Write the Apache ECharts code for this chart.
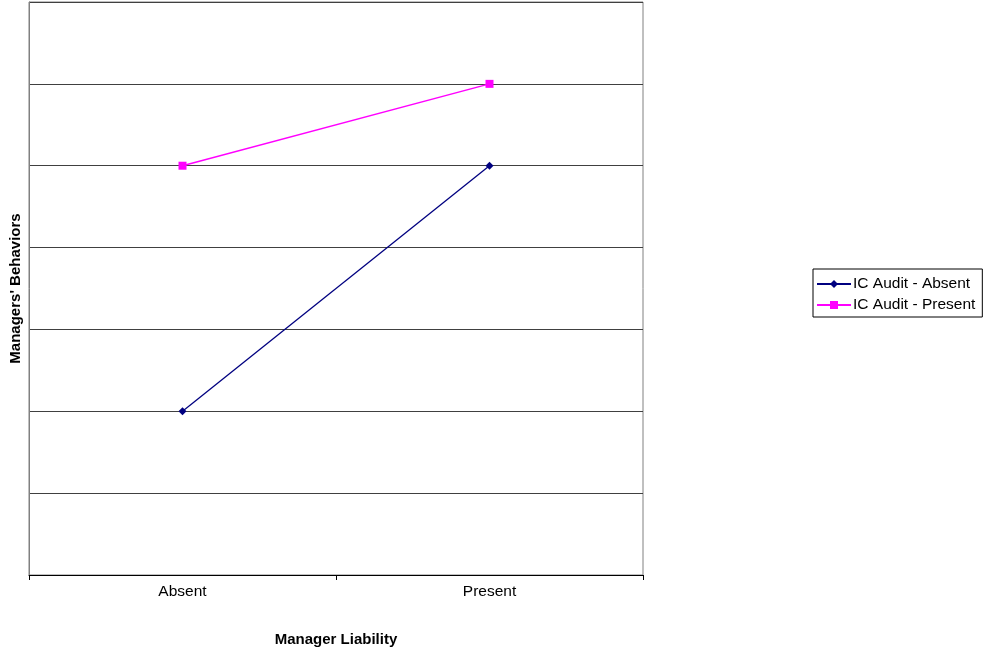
<!DOCTYPE html>
<html>
<head>
<meta charset="utf-8">
<script src="https://cdn.jsdelivr.net/npm/echarts@6/dist/echarts.min.js"></script>
<style>
html,body{margin:0;padding:0;background:#fff;}
#chart{width:985px;height:649px;}
</style>
</head>
<body>
<div id="chart"></div>
<script>
const categories = ['Absent', 'Present'];
const icAuditAbsent = [2, 5];
const icAuditPresent = [5, 6];
const seriesNames = ['IC Audit - Absent', 'IC Audit - Present'];

const chart = echarts.init(document.getElementById('chart'));
const font = 'Liberation Sans, Arial, sans-serif';
chart.setOption({
  animation: false,
  backgroundColor: '#fff',
  grid: {left: 29, top: 2, right: 342, bottom: 74, show: true, borderColor: '#808080', borderWidth: 1,
         containLabel: false, outerBoundsMode: 'none'},
  legend: {
    orient: 'vertical', left: 813, top: 269,
    data: seriesNames,
    itemWidth: 34, itemHeight: 10, itemGap: 5,
    padding: [7, 7, 4, 3],
    borderColor: '#000', borderWidth: 1,
    textStyle: {fontFamily: font, fontSize: 15.5, color: '#000', padding: [0,0,0,-3]}
  },
  xAxis: {
    type: 'category', data: categories, boundaryGap: true,
    name: 'Manager Liability', nameLocation: 'middle', nameGap: 57,
    nameTextStyle: {fontFamily: font, fontSize: 15, fontWeight: 'bold', color: '#000'},
    axisLine: {lineStyle: {color: '#000', width: 1}},
    axisTick: {show: true, length: 5, lineStyle: {color: '#000'}},
    axisLabel: {fontFamily: font, fontSize: 15.5, color: '#000', margin: 9}
  },
  yAxis: {
    type: 'value', min: 0, max: 7, interval: 1,
    name: "Managers' Behaviors", nameLocation: 'middle', nameGap: 6, nameRotate: 90,
    nameTextStyle: {fontFamily: font, fontSize: 15, fontWeight: 'bold', color: '#000'},
    axisLine: {show: true, lineStyle: {color: '#808080'}},
    axisTick: {show: false},
    axisLabel: {show: false},
    splitLine: {show: true, lineStyle: {color: '#404040', width: 1}}
  },
  series: [
    {name: seriesNames[0], type: 'line', data: icAuditAbsent, symbol: 'diamond', symbolSize: 8,
     lineStyle: {color: '#000080', width: 1.3}, itemStyle: {color: '#000080'}},
    {name: seriesNames[1], type: 'line', data: icAuditPresent, symbol: 'rect', symbolSize: 8,
     lineStyle: {color: '#FF00FF', width: 1.5}, itemStyle: {color: '#FF00FF'}}
  ]
});
</script>
</body>
</html>
